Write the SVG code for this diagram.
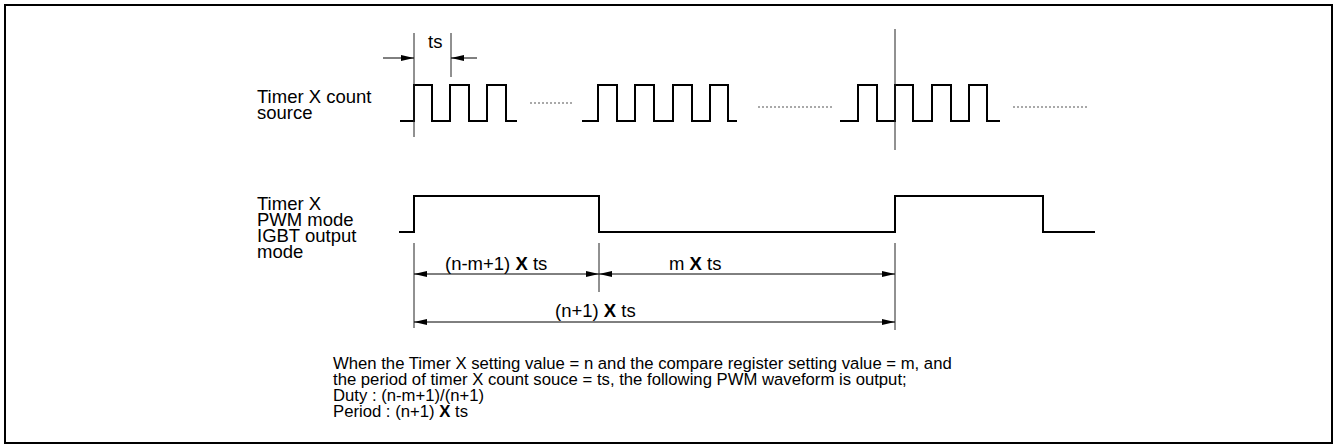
<svg xmlns="http://www.w3.org/2000/svg" width="1334" height="445" viewBox="0 0 1334 445">
<style>
.t{font-family:"Liberation Sans",Arial,sans-serif;font-size:18.5px;fill:#000}
.b{font-family:"Liberation Sans",Arial,sans-serif;font-size:16.7px;fill:#000}
.wave{fill:none;stroke:#000;stroke-width:2}
.dim{fill:none;stroke:#000;stroke-width:1}
.ext{fill:none;stroke:#222;stroke-width:1}
.dot{fill:none;stroke:#555;stroke-width:1.2;stroke-dasharray:2 2}
.bx{font-weight:bold}
</style>
<defs>
<marker id="ah" markerUnits="userSpaceOnUse" markerWidth="14" markerHeight="8" refX="13" refY="4" orient="auto-start-reverse">
<path d="M0,1 L13,4 L0,7 z" fill="#000"/>
</marker>
</defs>
<rect x="5" y="5" width="1327" height="438" fill="#fff" stroke="#000" stroke-width="2"/>

<g id="count-source">
<text class="t" x="257" y="103">Timer X count</text>
<text class="t" x="257" y="119">source</text>
<path class="wave" d="M400,121 H414 V85 H432 V121 H450 V85 H469 V121 H487 V85 H506 V121 H517"/>
<path class="dot" d="M530,103 H572"/>
<path class="wave" d="M582,121 H598 V85 H617 V121 H635 V85 H654 V121 H673 V85 H692 V121 H710 V85 H728 V121 H737"/>
<path class="dot" d="M758,107 H832"/>
<path class="wave" d="M840,121 H858 V85 H877 V121 H895 V85 H913 V121 H932 V85 H951 V121 H969 V85 H987 V121 H1000"/>
<path class="dot" d="M1013,107 H1087"/>
</g>

<g id="pwm-output">
<text class="t" x="257" y="210">Timer X</text>
<text class="t" x="257" y="226">PWM mode</text>
<text class="t" x="257" y="242">IGBT output</text>
<text class="t" x="257" y="258">mode</text>
<path class="wave" d="M399,232 H414 V196 H599 V232 H895 V196 H1043 V232 H1095"/>
</g>

<g id="connectors">
<path class="ext" d="M414,33 V137"/>
<path class="ext" d="M451,33 V77"/>
<path class="ext" d="M895,29 V150"/>
<path class="ext" d="M414,243 V328"/>
<path class="ext" d="M599,243 V292"/>
<path class="ext" d="M895,243 V330"/>
<line class="dim" x1="383" y1="58" x2="414" y2="58" marker-end="url(#ah)"/>
<line class="dim" x1="477" y1="58" x2="451" y2="58" marker-end="url(#ah)"/>
<line class="dim" x1="414" y1="274" x2="599" y2="274" marker-start="url(#ah)" marker-end="url(#ah)"/>
<line class="dim" x1="599" y1="274" x2="895" y2="274" marker-start="url(#ah)" marker-end="url(#ah)"/>
<line class="dim" x1="414" y1="322" x2="895" y2="322" marker-start="url(#ah)" marker-end="url(#ah)"/>
</g>

<g id="dim-labels">
<text class="t" x="428" y="48">ts</text>
<text class="t" x="445" y="270">(n-m+1) <tspan class="bx">X</tspan> ts</text>
<text class="t" x="669" y="270">m <tspan class="bx">X</tspan> ts</text>
<text class="t" x="555" y="317">(n+1) <tspan class="bx">X</tspan> ts</text>
</g>

<g id="note">
<text class="b" x="333" y="369">When the Timer X setting value = n and the compare register setting value = m, and</text>
<text class="b" x="333" y="385">the period of timer X count souce = ts, the following PWM waveform is output;</text>
<text class="b" x="333" y="401">Duty : (n-m+1)/(n+1)</text>
<text class="b" x="333" y="417">Period : (n+1) <tspan class="bx">X</tspan> ts</text>
</g>
</svg>
